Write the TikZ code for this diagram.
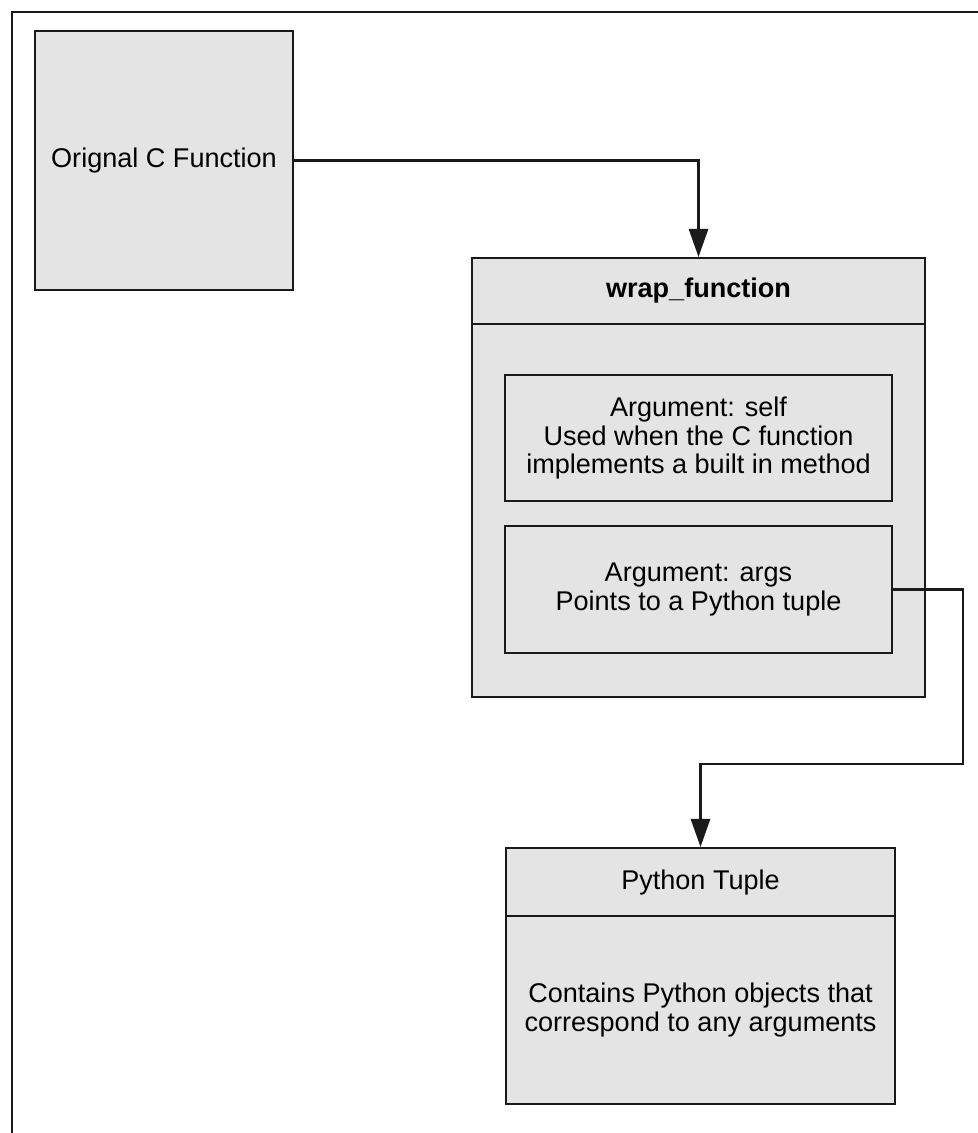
\documentclass[tikz,border=0pt]{standalone}
\usepackage{fontspec}
\setmainfont{Liberation Sans}
\usepackage{xcolor}
\usepackage{tikz}
\usetikzlibrary{positioning, arrows.meta}
\definecolor{BoxGray}{HTML}{E4E4E4}
\definecolor{LineBlack}{HTML}{1A1A1A}

\begin{document}
\begin{tikzpicture}[every node/.style={font=\fontsize{15.4}{16.4}\selectfont},
  box/.style={draw=LineBlack, fill=BoxGray, line width=1.2pt, align=center,
    inner sep=0pt, minimum width=#1},
  box/.default={7.74cm},
  arr/.style={-{Triangle[length=16pt, width=11pt]}, line width=1.2pt, LineBlack},
  frame/.style={line width=1.7pt, LineBlack}
]
  \useasboundingbox (0,0) rectangle (19.54,-22.66);

  % Outer frame
  \draw[frame] (19.6,-0.24) -| (0.24,-22.7);

  % Original function
  \node[box=5.16cm, minimum height=5.18cm] (orig) at (3.28,-3.21) {Orignal C Function};

  % Wrapper block
  \node[box=9.06cm, minimum height=1.32cm, font=\fontsize{15.4}{16.4}\selectfont\bfseries]
    (wraphead) at (13.97,-5.82) {wrap\_function};
  \node[box=9.06cm, minimum height=7.46cm, below=-1.2pt of wraphead] (wrapbody) {};
  \node[box, minimum height=2.52cm] (argself) at (13.97,-8.76)
    {Argument: self\\Used when the C function\\implements a built in method};
  \node[box, minimum height=2.54cm] (argargs) at (13.97,-11.79)
    {Argument: args\\Points to a Python tuple};

  % Tuple block
  \node[box=7.78cm, minimum height=1.36cm] (tuphead) at (14.01,-17.64) {Python Tuple};
  \node[box=7.78cm, minimum height=3.76cm, below=-1.2pt of tuphead] (tupbody)
    {Contains Python objects that\\correspond to any arguments};

  % Arrows
  \coordinate (bend) at (19.26,-15.28);
  \draw[arr] (orig.east) -| (wraphead.north);
  \draw[arr] (argargs.east) -| (bend) -| (tuphead.north);
\end{tikzpicture}
\end{document}
